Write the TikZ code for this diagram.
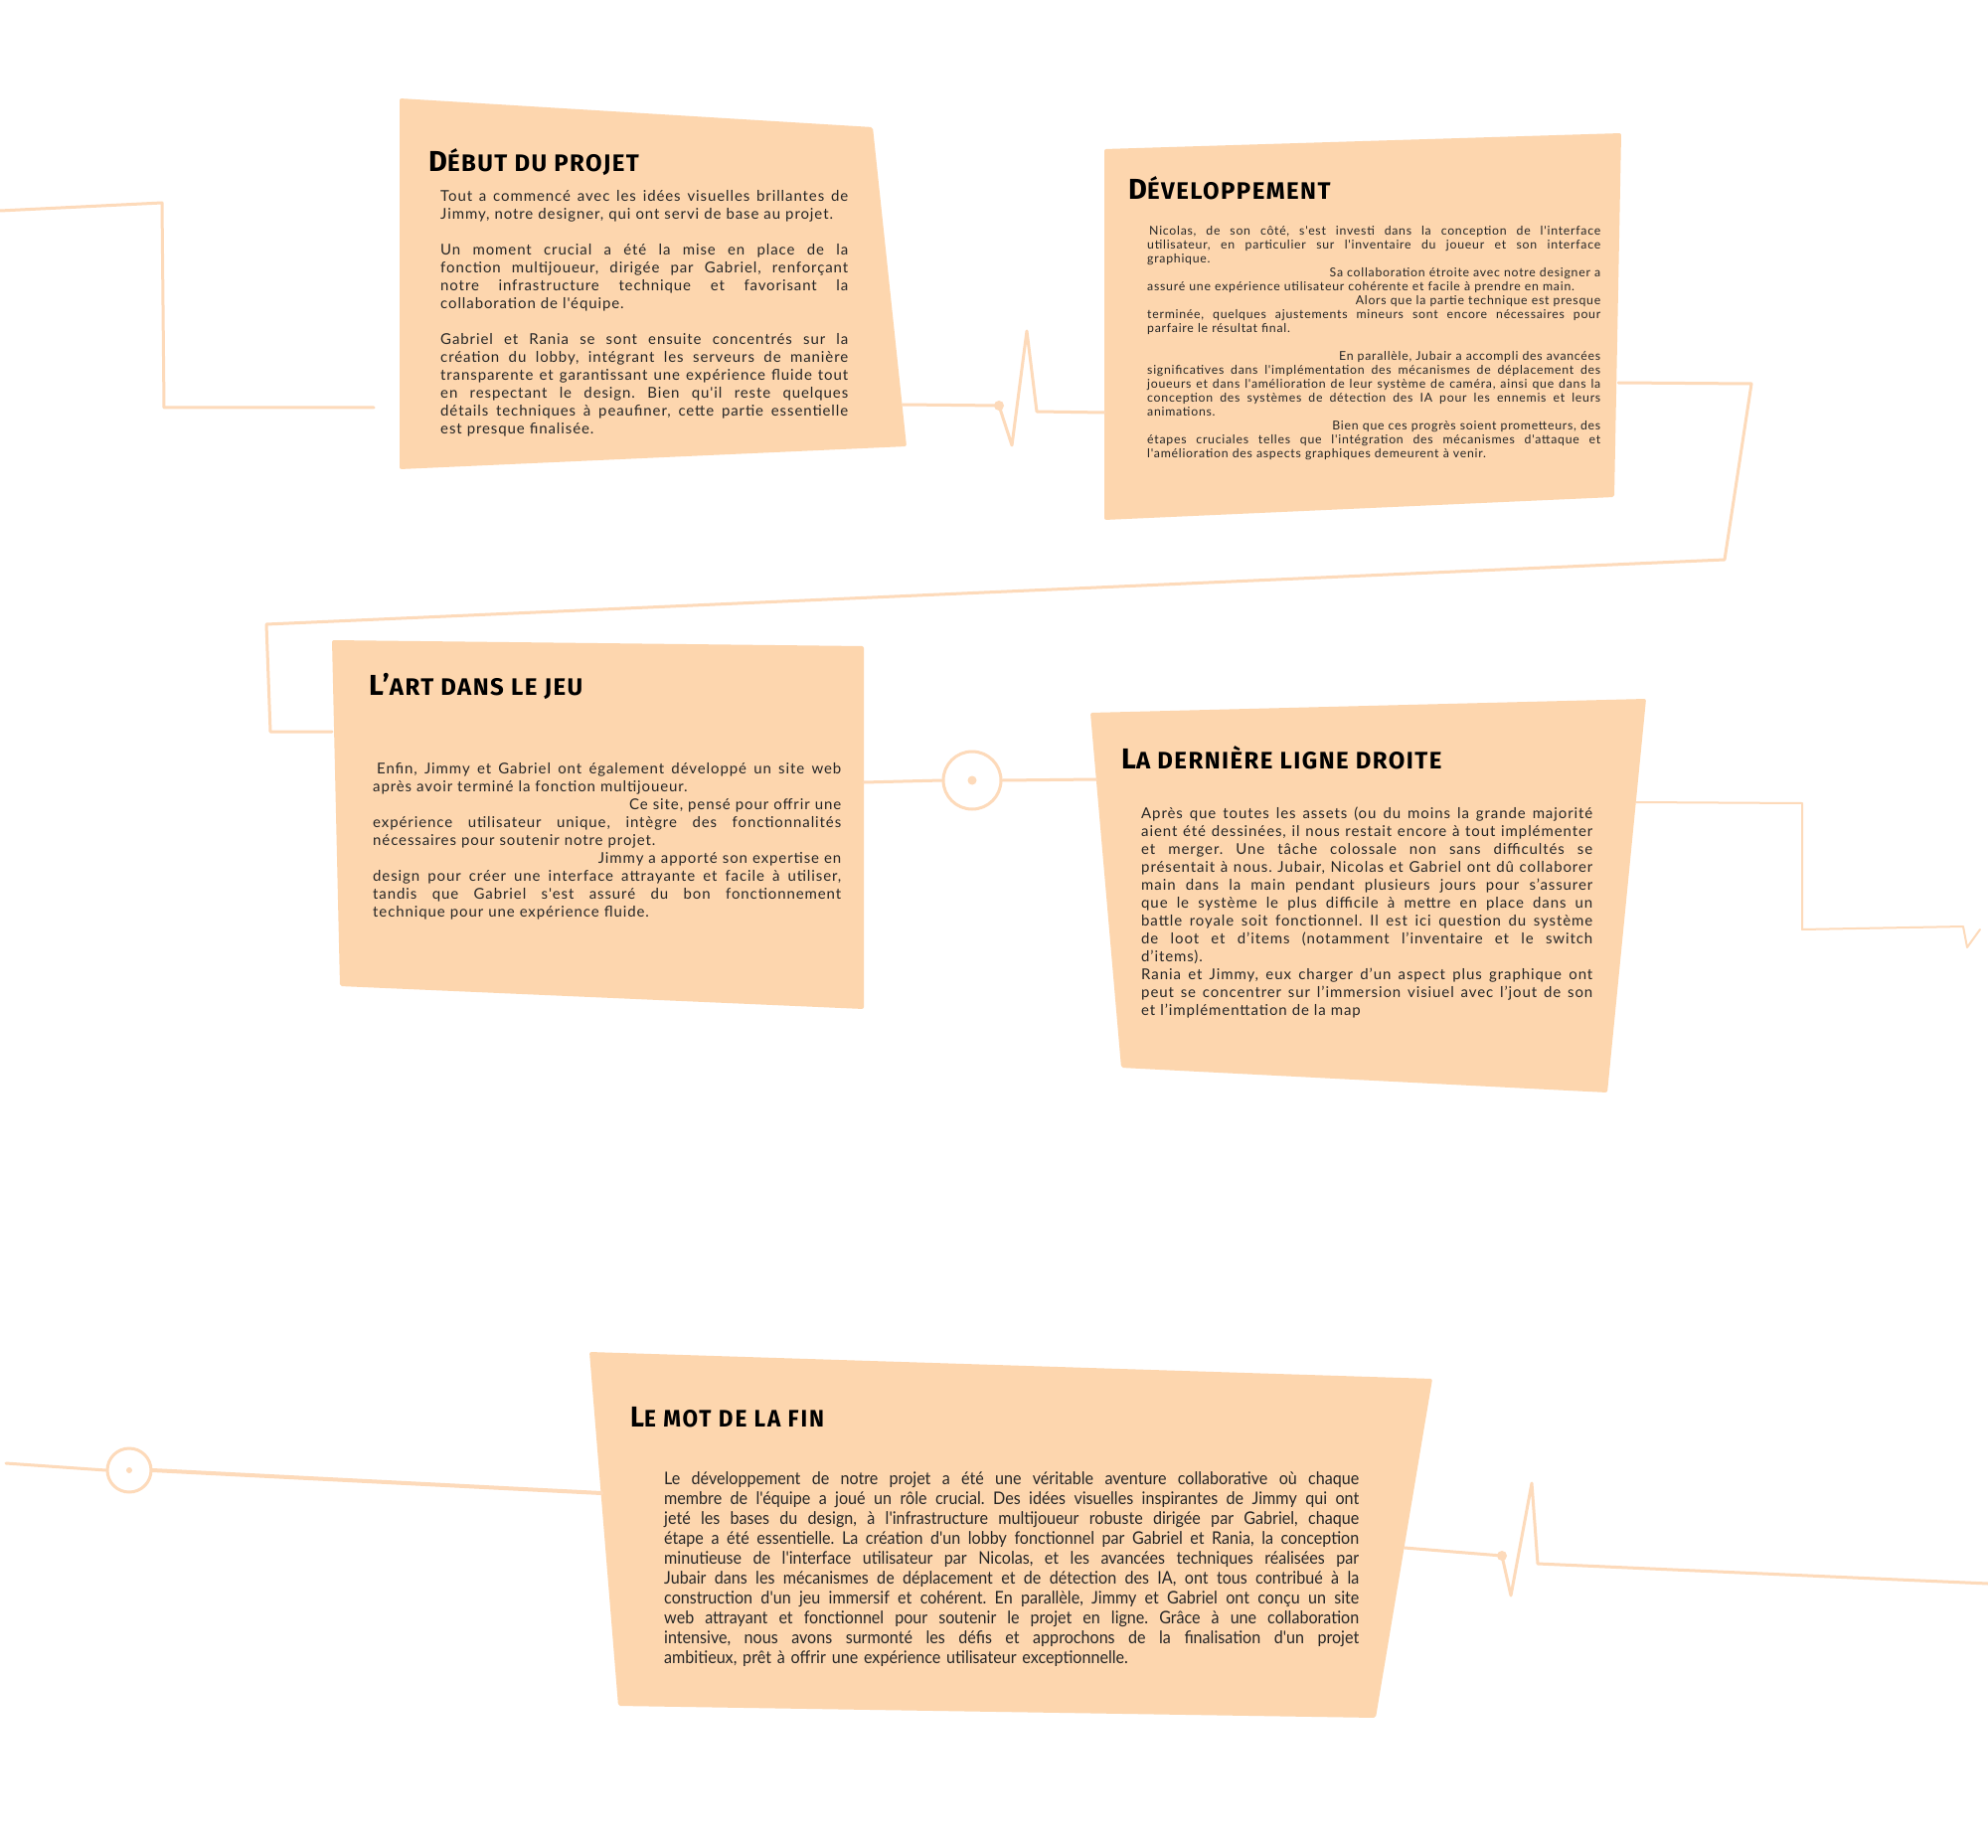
\documentclass[tikz,border=0pt]{standalone}
\usepackage{fontspec}
\setmainfont{Lato}
\newfontfamily\headfont[LetterSpace=6]{Fira Sans}
\newfontfamily\condhead[FakeStretch=0.94,LetterSpace=8]{Fira Sans}
\newfontfamily\bodyfont[LetterSpace=6]{Lato}
\newfontfamily\condfont[FakeStretch=0.92]{Lato}
\usepackage{tikz}
\usetikzlibrary{positioning,calc}
\definecolor{peach}{RGB}{253,214,174}
\definecolor{trailc}{RGB}{253,218,186}
\definecolor{ink}{RGB}{38,38,38}
\frenchspacing
\newcommand\jl[1]{{\spaceskip=0pt\xspaceskip=0pt\makebox[\linewidth][s]{#1}}}
\newcommand\rl[1]{\makebox[\linewidth][r]{#1}}
\newcommand\capt[2]{{\fontsize{29}{29}\selectfont #1}{\fontsize{24}{24}\selectfont #2}}
\tikzset{
  card/.style={fill=peach,rounded corners=2pt},
  trail/.style={draw=trailc,line width=3pt,line cap=round,line join=round},
  ring/.style={circle,draw=trailc,line width=3pt,minimum size=58pt,inner sep=0pt},
  heading/.style={anchor=base west,inner sep=0pt,font=\headfont\bfseries},
  bodytext/.style={anchor=base west,inner sep=0pt,align=left,text=ink},
}

\begin{document}
\begin{tikzpicture}[
  x=1pt,y=-1pt,
  body/.style={bodytext,font=\bodyfont\fontsize{15}{18}\selectfont},
  smallbody/.style={bodytext,font=\bodyfont\fontsize{12.3}{14}\selectfont},
  finalbody/.style={bodytext,font=\condfont\fontsize{17.5}{20}\selectfont},
  blob/.style={fill=trailc}
]
  \useasboundingbox[fill=white] (0,0) rectangle (2000,1859);

  \fill[card] (402,99) -- (878,128) -- (912,449) -- (402,472) -- cycle;
  \fill[card] (1111,150) -- (1631,134) -- (1624,500) -- (1111,523) -- cycle;
  \fill[card] (334,644) -- (869,650) -- (869,1015) -- (342,992) -- cycle;
  \fill[card] (1097,717) -- (1656,703) -- (1617,1099) -- (1128,1074) -- cycle;
  \fill[card] (593,1360) -- (1441,1387) -- (1384,1728) -- (622,1716) -- cycle;

  \coordinate (in1) at (0,212);
  \coordinate (c1w) at (376,410);
  \coordinate (c1e) at (908,407);
  \coordinate (c2w) at (1111,415);
  \coordinate (c2e) at (1628,385);
  \coordinate (c3w) at (334,736);
  \coordinate (c3e) at (869,787);
  \coordinate (c4w) at (1103,784);
  \coordinate (c4e) at (1646,807);
  \coordinate (out4) at (1992,935);
  \coordinate (in5) at (6,1472);
  \coordinate (c5w) at (605,1502);
  \coordinate (c5e) at (1413,1557);
  \coordinate (out5) at (2000,1593);

  \draw[trail] (in1) -- (163,204) -- (165,410) -- (c1w);
  \draw[trail] (c1e) -- (1005,408) -- (1018,448) -- (1033,333) -- (1043,414) -- (c2w);
  \fill[blob] (1005,408) circle (5);
  \draw[trail] (c2e) -- (1762,386) -- (1735,563) -- (268,628) -- (272,736) -- (c3w);

  \node[ring] (r1) at (978,785) {};
  \fill[blob] (r1.center) circle (4.5);
  \draw[trail] (c3e) -- (r1.west);
  \draw[trail] (r1.east) -- (c4w);

  \draw[trail,line width=2pt] (c4e) -- (1813,808) -- (1813,935) -- (1975,932) -- (1979,953) -- (out4);

  \node[ring,minimum size=44pt] (r2) at (130,1479) {};
  \fill[blob] (r2.center) circle (3);
  \draw[trail] (in5) -- (r2.west);
  \draw[trail,line width=4pt] (r2.east) -- (c5w);

  \draw[trail] (c5e) -- (1511,1565) -- (1520,1605) -- (1541,1492) -- (1547,1573) -- (out5);
  \fill[blob] (1511,1565) circle (5);

  \node[heading] (h1) at (431,173) {\capt{D}{ÉBUT DU PROJET}};
  \node[body,text width=410pt] (t1) at (443,203) {%
    \jl{Tout a commencé avec les idées visuelles brillantes de}\\
    Jimmy, notre designer, qui ont servi de base au projet.\\[18pt]
    \jl{Un moment crucial a été la mise en place de la}\\
    \jl{fonction multijoueur, dirigée par Gabriel, renforçant}\\
    \jl{notre infrastructure technique et favorisant la}\\
    collaboration de l'équipe.\\[18pt]
    \jl{Gabriel et Rania se sont ensuite concentrés sur la}\\
    \jl{création du lobby, intégrant les serveurs de manière}\\
    \jl{transparente et garantissant une expérience fluide tout}\\
    \jl{en respectant le design. Bien qu'il reste quelques}\\
    \jl{détails techniques à peaufiner, cette partie essentielle}\\
    est presque finalisée.};

  \node[heading] (h2) at (1135,201) {\capt{D}{ÉVELOPPEMENT}};
  \node[smallbody,text width=456pt] (t2) at (1154,237) {%
    \jl{\hspace*{2pt}Nicolas, de son côté, s'est investi dans la conception de l'interface}\\
    \jl{utilisateur, en particulier sur l'inventaire du joueur et son interface}\\
    graphique.\\
    \rl{Sa collaboration étroite avec notre designer a}\\
    assuré une expérience utilisateur cohérente et facile à prendre en main.\\
    \rl{Alors que la partie technique est presque}\\
    \jl{terminée, quelques ajustements mineurs sont encore nécessaires pour}\\
    parfaire le résultat final.\\[14pt]
    \rl{En parallèle, Jubair a accompli des avancées}\\
    \jl{significatives dans l'implémentation des mécanismes de déplacement des}\\
    \jl{joueurs et dans l'amélioration de leur système de caméra, ainsi que dans la}\\
    \jl{conception des systèmes de détection des IA pour les ennemis et leurs}\\
    animations.\\
    \rl{Bien que ces progrès soient prometteurs, des}\\
    \jl{étapes cruciales telles que l'intégration des mécanismes d'attaque et}\\
    l'amélioration des aspects graphiques demeurent à venir.};

  \node[heading] (h3) at (371,699) {\capt{L’}{ART DANS LE JEU}};
  \node[body,text width=471pt] (t3) at (375,778) {%
    \jl{\hspace*{4pt}Enfin, Jimmy et Gabriel ont également développé un site web}\\
    après avoir terminé la fonction multijoueur.\\
    \rl{Ce site, pensé pour offrir une}\\
    \jl{expérience utilisateur unique, intègre des fonctionnalités}\\
    nécessaires pour soutenir notre projet.\\
    \rl{Jimmy a apporté son expertise en}\\
    \jl{design pour créer une interface attrayante et facile à utiliser,}\\
    \jl{tandis que Gabriel s'est assuré du bon fonctionnement}\\
    technique pour une expérience fluide.};

  \node[heading] (h4) at (1128,773) {\capt{L}{A DERNIÈRE LIGNE DROITE}};
  \node[body,text width=454pt] (t4) at (1148,823) {%
    \jl{Après que toutes les assets (ou du moins la grande majorité}\\
    \jl{aient été dessinées, il nous restait encore à tout implémenter}\\
    \jl{et merger. Une tâche colossale non sans difficultés se}\\
    \jl{présentait à nous. Jubair, Nicolas et Gabriel ont dû collaborer}\\
    \jl{main dans la main pendant plusieurs jours pour s’assurer}\\
    \jl{que le système le plus difficile à mettre en place dans un}\\
    \jl{battle royale soit fonctionnel. Il est ici question du système}\\
    \jl{de loot et d’items (notamment l’inventaire et le switch}\\
    d’items).\\
    \jl{Rania et Jimmy, eux charger d’un aspect plus graphique ont}\\
    \jl{peut se concentrer sur l’immersion visiuel avec l’jout de son}\\
    et l’implémenttation de la map};

  \node[heading,font=\condhead\bfseries] (h5) at (634,1435) {\capt{L}{E MOT DE LA FIN}};
  \node[finalbody,text width=699pt] (t5) at (668,1493) {%
    \jl{Le développement de notre projet a été une véritable aventure collaborative où chaque}\\
    \jl{membre de l'équipe a joué un rôle crucial. Des idées visuelles inspirantes de Jimmy qui ont}\\
    \jl{jeté les bases du design, à l'infrastructure multijoueur robuste dirigée par Gabriel, chaque}\\
    \jl{étape a été essentielle. La création d'un lobby fonctionnel par Gabriel et Rania, la conception}\\
    \jl{minutieuse de l'interface utilisateur par Nicolas, et les avancées techniques réalisées par}\\
    \jl{Jubair dans les mécanismes de déplacement et de détection des IA, ont tous contribué à la}\\
    \jl{construction d'un jeu immersif et cohérent. En parallèle, Jimmy et Gabriel ont conçu un site}\\
    \jl{web attrayant et fonctionnel pour soutenir le projet en ligne. Grâce à une collaboration}\\
    \jl{intensive, nous avons surmonté les défis et approchons de la finalisation d'un projet}\\
    ambitieux, prêt à offrir une expérience utilisateur exceptionnelle.};
\end{tikzpicture}
\end{document}
